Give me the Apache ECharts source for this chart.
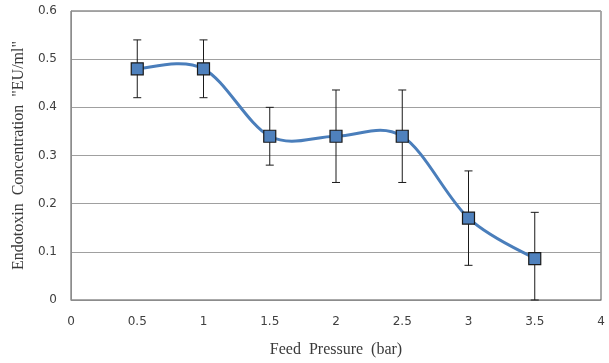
<!DOCTYPE html>
<html><head><meta charset="utf-8">
<script src="https://cdn.jsdelivr.net/npm/echarts@6/dist/echarts.min.js"></script>
<style>html,body{margin:0;padding:0;background:#fff}#c{width:609px;height:363px}</style>
</head><body><div id="c"></div>
<script>
var pressure = [0.5, 1, 1.5, 2, 2.5, 3, 3.5];
var concentration = [0.48, 0.48, 0.34, 0.34, 0.34, 0.17, 0.086];
var errLow = [0.42, 0.42, 0.28, 0.244, 0.244, 0.072, 0];
var errHigh = [0.54, 0.54, 0.40, 0.436, 0.436, 0.268, 0.182];

var chart = echarts.init(document.getElementById('c'));
var n = pressure.length;
var lineData = pressure.map(function(x,i){return [x, concentration[i]];});
var errData = pressure.map(function(x,i){return [x, errLow[i], errHigh[i]];});
var segData = [];
for (var i=0;i<n-1;i++) segData.push([pressure[i], concentration[i], i]);

chart.setOption({
  animation:false,
  grid:{left:71,right:8,top:11,bottom:59,show:true,borderColor:'#555',borderWidth:1},
  xAxis:{type:'value',min:0,max:4,interval:0.5,
    name:'Feed  Pressure  (bar)',nameLocation:'middle',nameGap:42,
    nameTextStyle:{fontFamily:'Liberation Serif',fontSize:16,color:'#3a3a3a'},
    axisLine:{lineStyle:{color:'#8c8c8c'}},axisTick:{show:false},
    axisLabel:{fontFamily:'DejaVu Sans',fontSize:12,color:'#404040',margin:16},
    splitLine:{show:false}},
  yAxis:{type:'value',min:0,max:0.6,interval:0.1,
    name:'Endotoxin  Concentration  "EU/ml"',nameLocation:'middle',nameGap:41,
    nameTextStyle:{fontFamily:'Liberation Serif',fontSize:16,color:'#3a3a3a'},
    axisLine:{show:true,lineStyle:{color:'#8c8c8c'}},axisTick:{show:false},
    axisLabel:{fontFamily:'DejaVu Sans',fontSize:12,color:'#404040',margin:14},
    splitLine:{lineStyle:{color:'#a0a0a0'}}},
  series:[
    {type:'custom',data:errData,z:3,
      renderItem:function(params,api){
        var x=api.value(0);
        var lo=api.coord([x,api.value(1)]);
        var hi=api.coord([x,api.value(2)]);
        var w=4;
        var st={stroke:'#1a1a1a',lineWidth:1};
        return {type:'group',children:[
          {type:'line',shape:{x1:lo[0],y1:lo[1],x2:hi[0],y2:hi[1]},style:st},
          {type:'line',shape:{x1:lo[0]-w,y1:lo[1],x2:lo[0]+w,y2:lo[1]},style:st},
          {type:'line',shape:{x1:hi[0]-w,y1:hi[1],x2:hi[0]+w,y2:hi[1]},style:st}
        ]};
      }},
    {type:'custom',data:segData,z:4,
      renderItem:function(params,api){
        var k=api.value(2);
        function P(j){j=Math.max(0,Math.min(n-1,j));return api.coord([pressure[j],concentration[j]]);}
        var p0=P(k-1),p1=P(k),p2=P(k+1),p3=P(k+2);
        var c1=[p1[0]+(p2[0]-p0[0])/6,p1[1]+(p2[1]-p0[1])/6];
        var c2=[p2[0]-(p3[0]-p1[0])/6,p2[1]-(p3[1]-p1[1])/6];
        return {type:'bezierCurve',shape:{x1:p1[0],y1:p1[1],x2:p2[0],y2:p2[1],cpx1:c1[0],cpy1:c1[1],cpx2:c2[0],cpy2:c2[1]},
          style:{stroke:'#4a7ebb',lineWidth:3,fill:null}};
      }},
    {type:'line',data:lineData,z:5,
      lineStyle:{width:0,opacity:0},
      symbol:'rect',symbolSize:12,
      itemStyle:{color:'#4f81bd',borderColor:'#1a1a1a',borderWidth:1.2}}
  ]
});
</script></body></html>
